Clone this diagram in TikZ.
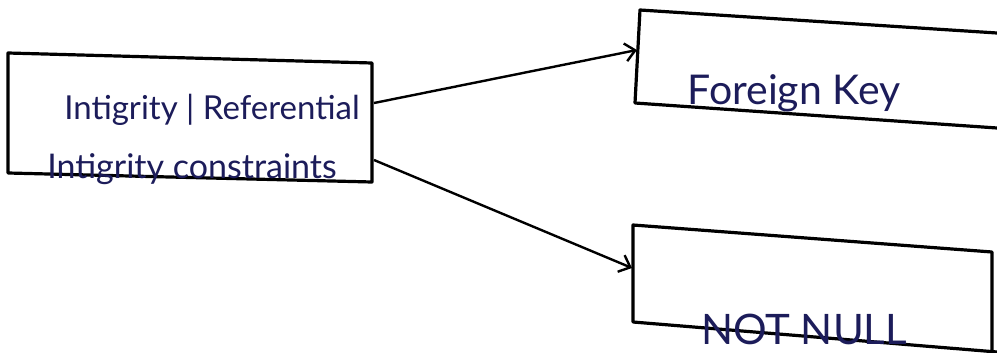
\documentclass[tikz,border=0pt]{standalone}
\usepackage{fontspec}
\setmainfont{Lato}
\usetikzlibrary{arrows.meta}
\definecolor{ink}{HTML}{1C1C5A}
\begin{document}
\begin{tikzpicture}[x=1pt,y=-1pt,
  boxline/.style={line width=3.2pt, line join=round, line cap=round},
  conn/.style={line width=2.4pt, -{Straight Barb[length=10pt,width=18pt,line width=2.4pt]}},
  handtext/.style={text=ink, inner sep=0pt, anchor=base}]
\useasboundingbox (0,0) rectangle (997,353);
\fill[white] (0,0) rectangle (997,353);
% boxes
\draw[boxline] (8,53) -- (372,63) -- (372,182) -- (8,173) -- cycle;
\draw[boxline] (997,33) -- (640,10) -- (635,103) -- (997,128);
\draw[boxline] (997,352) -- (633,322) -- (633,225) -- (992,252) -- (992,353);
% texts
\node[handtext, font=\fontsize{33}{38}\selectfont] (t1) at (212,120) {Intigrity | Referential};
\node[handtext, font=\fontsize{34}{38}\selectfont] (t2) at (192,178) {Intigrity constraints};
\node[handtext, font=\fontsize{41}{46}\selectfont] (fk) at (794,104) {Foreign Key};
\node[handtext, font=\fontsize{42}{48}\selectfont] (nn) at (804,344) {NOT NULL};
% connector ends
\coordinate (a1) at (374,103);
\coordinate (b1) at (637,50);
\coordinate (a2) at (374,160);
\coordinate (b2) at (632,268);
\draw[conn] (a1) -- (b1);
\draw[conn] (a2) -- (b2);
\end{tikzpicture}
\end{document}
